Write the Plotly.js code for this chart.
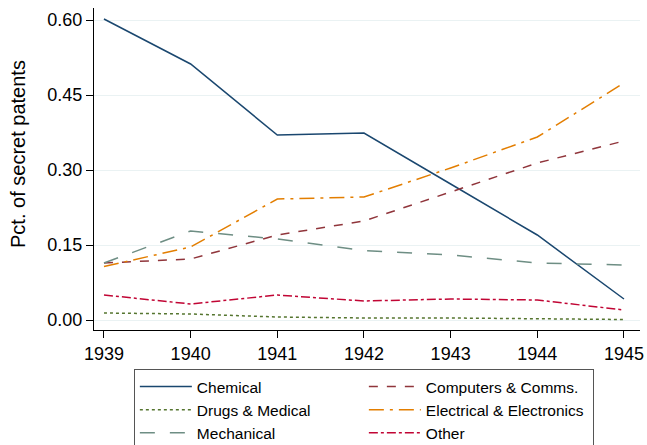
<!DOCTYPE html>
<html><head><meta charset="utf-8">
<script src="https://cdn.plot.ly/plotly-3.0.1.min.js"></script>
<style>body{margin:0;padding:0;background:#fff}#chart{width:647px;height:445px}</style>
</head><body><div id="chart"></div>
<script>
const years = [1939, 1940, 1941, 1942, 1943, 1944, 1945];
const chemical   = [0.602, 0.512, 0.370, 0.374, 0.272, 0.170, 0.042];
const computers  = [0.114, 0.122, 0.170, 0.198, 0.256, 0.314, 0.358];
const drugs      = [0.014, 0.012, 0.006, 0.004, 0.004, 0.003, 0.001];
const electrical = [0.107, 0.146, 0.242, 0.246, 0.304, 0.366, 0.474];
const mechanical = [0.114, 0.178, 0.162, 0.139, 0.130, 0.114, 0.110];
const other      = [0.050, 0.032, 0.050, 0.038, 0.042, 0.040, 0.020];
const yTicks = [0, 0.15, 0.30, 0.45, 0.60];

function tr(name, y, color, dash){
  return {x: years, y: y, name: name, type: 'scatter', mode: 'lines',
          line: {color: color, dash: dash, width: 1.5}};
}
const data = [
  tr('Chemical', chemical, '#1a476f', 'solid'),
  tr('Computers & Comms.', computers, '#90353b', 'dash'),
  tr('Drugs & Medical', drugs, '#55752f', 'dot'),
  tr('Electrical & Electronics', electrical, '#e37e00', 'longdashdot'),
  tr('Mechanical', mechanical, '#6e8e84', 'longdash'),
  tr('Other', other, '#c10534', 'dashdot')
];
const layout = {
  width: 647, height: 445,
  margin: {l: 94, r: 7, t: 8, b: 115, autoexpand: false},
  paper_bgcolor: '#fff', plot_bgcolor: '#fff',
  font: {family: 'Liberation Sans, Arial, sans-serif', color: '#000'},
  xaxis: {range: [1938.885, 1945.185], tickvals: years, ticks: 'outside', ticklen: 7,
          tickcolor: '#000', showline: true, linecolor: '#000', linewidth: 1,
          showgrid: false, zeroline: false, tickfont: {size: 18}, automargin: false},
  yaxis: {range: [-0.02, 0.624], tickvals: yTicks, tickformat: '.2f', ticks: 'outside',
          ticklen: 7, tickcolor: '#000', showline: true, linecolor: '#000', linewidth: 1,
          showgrid: true, gridcolor: '#eaf2f3', gridwidth: 1, zeroline: false,
          tickfont: {size: 18}, automargin: false},
  annotations: [{text: 'Pct. of secret patents', textangle: -90, xref: 'paper', yref: 'paper',
                 x: -0.139, y: 0.547, xanchor: 'center', yanchor: 'middle', showarrow: false,
                 font: {size: 20}}],
  showlegend: true,
  legend: {orientation: 'h', x: 0.073, xanchor: 'left', y: -0.121, yanchor: 'top',
           entrywidth: 162, entrywidthmode: 'pixels', bordercolor: '#555', borderwidth: 1,
           font: {size: 15.5}, tracegroupgap: 0, itemwidth: 52}
};
Plotly.newPlot('chart', data, layout, {displayModeBar: false});
</script></body></html>
